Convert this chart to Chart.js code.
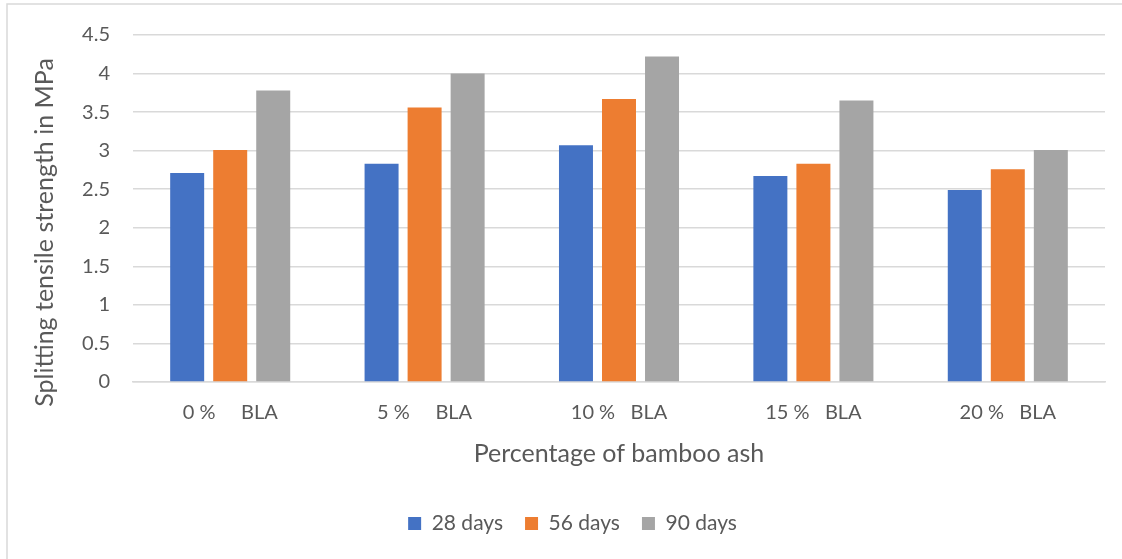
<!DOCTYPE html>
<html>
<head>
<meta charset="utf-8">
<script src="https://cdn.jsdelivr.net/npm/chart.js@4.4.1/dist/chart.umd.min.js"></script>
<style>
  html, body { margin: 0; padding: 0; background: #ffffff; }
  #wrap { width: 1122px; height: 559px; position: relative; }
</style>
</head>
<body>
<div id="wrap"><canvas id="chart" width="1122" height="559"></canvas></div>
<script>
// Splitting tensile strength of concrete with bamboo leaf ash replacement
const categories = ['0 %     BLA', '5 %     BLA', '10 %   BLA', '15 %   BLA', '20 %   BLA'];
const seriesNames = ['28 days', '56 days', '90 days'];
const days28 = [2.71, 2.83, 3.07, 2.67, 2.49];
const days56 = [3.01, 3.56, 3.67, 2.83, 2.76];
const days90 = [3.78, 4.00, 4.22, 3.65, 3.01];
const seriesColors = ['#4472C4', '#ED7D31', '#A5A5A5'];
const yTicks = [0, 0.5, 1, 1.5, 2, 2.5, 3, 3.5, 4, 4.5];
const yTitle = 'Splitting tensile strength in MPa';
const xTitle = 'Percentage of bamboo ash';

const FONT = 'Lato, "Liberation Sans", sans-serif';
const TEXT = '#595959';

// white page with the chart frame along the top and left edges
const framePlugin = {
  id: 'frame',
  beforeDraw(chart) {
    const ctx = chart.ctx;
    ctx.save();
    ctx.fillStyle = '#ffffff';
    ctx.fillRect(0, 0, chart.width, chart.height);
    ctx.strokeStyle = '#d9d9d9';
    ctx.lineWidth = 1.5;
    ctx.beginPath();
    ctx.moveTo(7, chart.height);
    ctx.lineTo(7, 4);
    ctx.lineTo(chart.width, 4);
    ctx.stroke();
    ctx.restore();
  }
};

// centre the legend row under the whole frame rather than the layout box
const legendShift = {
  id: 'legendShift',
  afterLayout(chart) {
    const lg = chart.legend;
    if (lg) { lg.left += 15; lg.right += 15; }
  }
};

// vertical axis title, centred a little below the middle of the value axis
const yTitlePlugin = {
  id: 'yTitle',
  afterDraw(chart) {
    const y = chart.scales.y;
    const ctx = chart.ctx;
    ctx.save();
    ctx.translate(y.left + 35, (y.top + y.bottom) / 2 + 24);
    ctx.rotate(-Math.PI / 2);
    ctx.font = '25px ' + FONT;
    ctx.fillStyle = TEXT;
    ctx.textAlign = 'center';
    ctx.textBaseline = 'middle';
    ctx.fillText(yTitle, 0, 0);
    ctx.restore();
  }
};

const allSeries = [days28, days56, days90];

new Chart(document.getElementById('chart'), {
  type: 'bar',
  data: {
    labels: categories,
    datasets: allSeries.map((vals, i) => ({
      label: seriesNames[i],
      data: vals,
      backgroundColor: seriesColors[i],
      borderWidth: 0,
      categoryPercentage: 0.664,
      barPercentage: 0.79
    }))
  },
  options: {
    responsive: false,
    animation: false,
    devicePixelRatio: 1,
    layout: { padding: { top: 33, left: 10, right: 17, bottom: 15 } },
    plugins: {
      legend: {
        position: 'bottom',
        labels: {
          boxWidth: 13,
          boxHeight: 13,
          padding: 22,
          color: TEXT,
          font: { family: FONT, size: 21 }
        }
      },
      tooltip: { enabled: false }
    },
    scales: {
      x: {
        grid: { display: false, drawTicks: false },
        border: { display: true, color: '#d9d9d9', width: 1.5 },
        ticks: { color: TEXT, font: { family: FONT, size: 20 }, padding: 19, maxRotation: 0, autoSkip: false },
        title: {
          display: true,
          text: xTitle,
          color: TEXT,
          font: { family: FONT, size: 25 },
          padding: { top: 0, bottom: 22 }
        },
        afterFit(scale) { scale.height = 109; }
      },
      y: {
        min: 0,
        max: 4.5,
        afterBuildTicks(scale) { scale.ticks = yTicks.map(v => ({ value: v })); },
        grid: { color: '#d9d9d9', lineWidth: 1.5, drawTicks: false },
        border: { display: false },
        ticks: {
          color: TEXT,
          font: { family: FONT, size: 20 },
          padding: 23,
          callback: v => String(v)
        },
        title: { display: false },
        afterFit(scale) { scale.width = 123; }
      }
    }
  },
  plugins: [framePlugin, legendShift, yTitlePlugin]
});
</script>
</body>
</html>
